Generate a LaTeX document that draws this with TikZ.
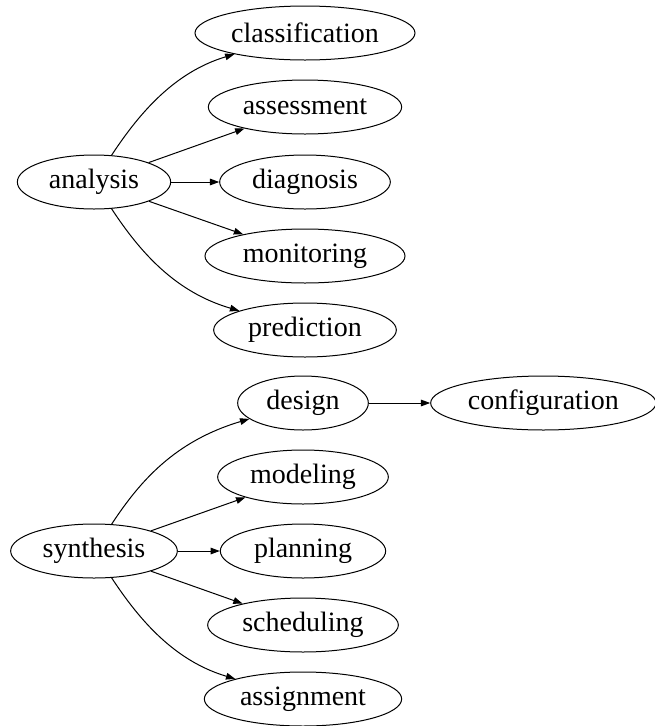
\documentclass[tikz,border=0pt]{standalone}
\usepackage{fontspec}
\setmainfont{Liberation Serif}
\usetikzlibrary{arrows.meta, positioning, shapes.geometric}

\begin{document}
\begin{tikzpicture}[
    x=0.75pt, y=-0.75pt,
    line width=0.75pt,
    task/.style = {
        draw,
        ellipse,
        inner sep=0pt,
        minimum height=40.5pt,
        font=\fontsize{21}{24}\selectfont,
    },
    leadsTo/.style = {
        -{Triangle[length=7pt, width=5pt]},
    },
]
\useasboundingbox (0,0) rectangle (655,726);

% analysis and its tasks
\node[task, minimum width=115pt] (analysis) at (94,182) {analysis};
\node[task, minimum width=165pt] (classification) at (305,33) {classification};
\node[task, minimum width=145pt] (assessment) at (305,107) {assessment};
\node[task, minimum width=128pt] (diagnosis) at (305,182) {diagnosis};
\node[task, minimum width=150pt] (monitoring) at (305,256) {monitoring};
\node[task, minimum width=137pt] (prediction) at (305,330) {prediction};

\draw[leadsTo] (analysis) .. controls (140,112) and (175,72) .. (classification);
\draw[leadsTo] (analysis) -- (assessment);
\draw[leadsTo] (analysis) -- (diagnosis);
\draw[leadsTo] (analysis) -- (monitoring);
\draw[leadsTo] (analysis) .. controls (140,252) and (175,292) .. (prediction);

% synthesis and its tasks
\node[task, minimum width=125pt] (synthesis) at (94,551) {synthesis};
\node[task, minimum width=98pt] (design) at (303,403) {design};
\node[task, minimum width=169pt, right=46pt of design] (configuration) {configuration};
\node[task, minimum width=128pt] (modeling) at (303,477) {modeling};
\node[task, minimum width=124pt] (planning) at (303,551) {planning};
\node[task, minimum width=143pt] (scheduling) at (303,625) {scheduling};
\node[task, minimum width=148pt] (assignment) at (303,699) {assignment};

\draw[leadsTo] (synthesis) .. controls (140,481) and (175,441) .. (design);
\draw[leadsTo] (design) -- (configuration);
\draw[leadsTo] (synthesis) -- (modeling);
\draw[leadsTo] (synthesis) -- (planning);
\draw[leadsTo] (synthesis) -- (scheduling);
\draw[leadsTo] (synthesis) .. controls (140,621) and (175,661) .. (assignment);

\end{tikzpicture}
\end{document}
